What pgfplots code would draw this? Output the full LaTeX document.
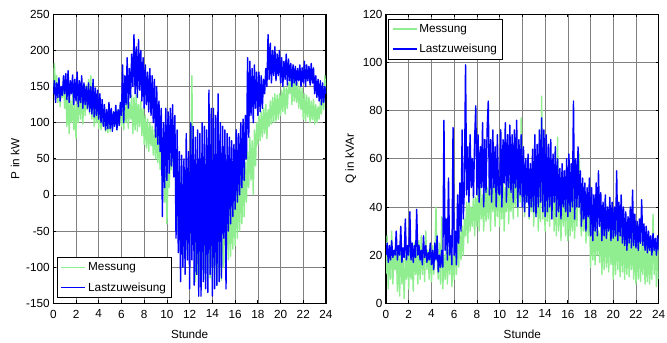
\documentclass[border=0pt]{standalone}
\usepackage{fontspec}
\setmainfont{Liberation Sans}
\usepackage{pgfplots}
\usepackage{pgfplotstable}
\pgfplotsset{compat=1.18}
\definecolor{mgreen}{RGB}{144,238,144}
\definecolor{mblue}{RGB}{0,0,255}
\newcommand{\fs}{\fontsize{11.8}{13}\selectfont}

\pgfplotstableread{
t pm pl qm ql
0.0 150 140 12 20
0.1 182 158 28 25
0.2 140 128 6 17
0.3 165 155 22 24
0.4 128 135 10 18
0.5 158 162 30 26
0.6 122 130 8 19
0.7 150 150 20 22
0.8 135 138 14 20
0.9 160 165 25 30
1.0 120 140 5 18
1.1 150 168 22 24
1.2 95 132 3 20
1.3 138 172 25 32
1.4 85 128 8 17
1.5 130 158 18 23
1.6 100 140 2 19
1.7 140 166 20 35
1.8 90 125 10 18
1.9 125 160 24 24
2.0 78 130 6 20
2.1 135 170 24 38
2.2 100 122 10 18
2.3 150 158 20 25
2.4 105 128 5 17
2.5 140 165 25 24
2.6 98 120 12 19
2.7 145 155 22 39
2.8 110 125 8 20
2.9 152 150 26 24
3.0 118 120 10 18
3.1 160 155 28 22
3.2 112 115 12 16
3.3 165 150 24 28
3.4 105 112 9 19
3.5 140 160 30 24
3.6 95 108 14 17
3.7 130 148 22 21
3.8 100 110 10 18
3.9 125 145 25 25
4.0 92 105 9 16
4.1 128 140 24 22
4.2 90 100 12 14
4.3 120 132 20 25
4.4 95 95 40 18
4.5 112 125 18 28
4.6 88 90 10 13
4.7 105 118 25 20
4.8 86 92 8 15
4.9 110 128 36 22
5.0 88 92 6 15
5.1 102 120 20 76
5.2 92 88 10 22
5.3 115 115 24 35
5.4 95 95 8 18
5.5 120 124 22 52
5.6 90 90 12 20
5.7 118 118 25 28
5.8 100 96 7 16
5.9 125 128 20 73
6.0 95 110 10 20
6.1 130 180 25 30
6.2 90 100 12 16
6.3 125 165 28 45
6.4 100 125 15 25
6.5 135 190 30 50
6.6 92 120 18 30
6.7 128 175 32 72
6.8 105 135 20 35
6.9 138 195 35 48
7.0 85 150 28 99
7.1 135 222 42 45
7.2 90 140 25 65
7.3 140 205 45 42
7.4 88 135 30 70
7.5 125 215 40 48
7.6 95 145 32 60
7.7 130 200 46 44
7.8 82 130 28 68
7.9 120 190 44 82
8.0 70 120 32 45
8.1 110 180 48 70
8.2 65 125 30 42
8.3 105 170 50 65
8.4 60 115 35 48
8.5 100 175 45 75
8.6 68 110 30 40
8.7 95 165 52 68
8.8 55 100 34 46
8.9 90 160 48 72
9.0 50 80 35 84
9.1 90 150 55 45
9.2 45 70 30 68
9.3 80 130 50 42
9.4 35 60 38 72
9.5 70 120 52 48
9.6 20 -30 32 65
9.7 55 100 55 40
9.8 -10 10 36 70
9.9 35 120 50 46
10.0 -40 20 32 45
10.1 30 115 50 72
10.2 10 30 35 40
10.3 55 120 55 68
10.4 35 40 30 50
10.5 70 125 48 75
10.6 40 25 38 42
10.7 60 110 56 70
10.8 -20 -60 33 48
10.9 45 90 52 74
11.0 -50 -80 38 46
11.1 40 60 55 70
11.2 -80 -120 35 42
11.3 25 55 58 72
11.4 -90 -100 40 48
11.5 20 50 60 76
11.6 -70 -110 36 40
11.7 30 85 57 68
11.8 -85 -90 42 45
11.9 15 60 77 70
12.0 -80 -130 40 40
12.1 50 100 55 65
12.2 165 -90 36 38
12.3 -60 95 52 60
12.4 40 -125 42 42
12.5 -120 80 58 62
12.6 25 -110 35 36
12.7 -110 90 50 58
12.8 30 -140 38 40
12.9 -100 85 55 64
13.0 -125 -140 32 38
13.1 35 100 52 70
13.2 -110 -120 36 36
13.3 40 95 55 66
13.4 -120 -130 30 40
13.5 20 90 50 72
13.6 -100 -135 34 42
13.7 30 145 86 77
13.8 -115 -110 35 38
13.9 38 120 52 72
14.0 -120 -140 30 36
14.1 20 120 52 70
14.2 -110 -130 34 38
14.3 25 110 55 66
14.4 -125 -125 32 40
14.5 15 140 48 68
14.6 -100 -120 36 35
14.7 22 100 54 62
14.8 -118 -115 30 42
14.9 10 95 50 65
15.0 -100 -60 28 36
15.1 10 90 69 60
15.2 -95 -130 30 38
15.3 5 85 52 56
15.4 -90 -50 26 35
15.5 0 80 55 58
15.6 -85 -40 32 40
15.7 -5 75 50 55
15.8 -75 -30 28 38
15.9 8 70 54 60
16.0 -70 -20 26 36
16.1 30 90 48 62
16.2 -60 -10 28 38
16.3 25 85 45 58
16.4 -50 0 30 40
16.5 35 100 50 84
16.6 -40 10 27 35
16.7 40 105 46 60
16.8 -30 20 32 40
16.9 45 110 48 65
17.0 -10 50 62 40
17.1 60 190 35 55
17.2 10 80 28 32
17.3 80 185 48 52
17.4 20 110 30 35
17.5 75 175 45 50
17.6 0 100 25 30
17.7 90 180 46 48
17.8 40 120 28 36
17.9 100 170 44 52
18.0 70 110 15 28
18.1 110 170 35 48
18.2 75 115 18 26
18.3 115 165 32 45
18.4 80 120 16 30
18.5 120 160 34 50
18.6 85 140 20 28
18.7 125 175 30 55
18.8 78 150 17 32
18.9 118 222 33 46
19.0 95 160 12 26
19.1 130 210 32 42
19.2 98 155 14 28
19.3 135 200 35 45
19.4 100 165 15 27
19.5 140 205 30 40
19.6 102 158 13 30
19.7 138 195 34 44
19.8 105 165 16 26
19.9 140 200 32 42
20.0 110 155 10 27
20.1 145 190 32 40
20.2 115 150 12 28
20.3 150 185 35 55
20.4 112 160 14 26
20.5 148 195 30 42
20.6 120 152 11 28
20.7 155 188 33 45
20.8 140 158 13 25
20.9 165 182 30 40
21.0 125 150 10 24
21.1 160 180 28 38
21.2 130 155 12 22
21.3 158 178 30 36
21.4 128 152 11 25
21.5 155 175 26 40
21.6 120 158 14 23
21.7 150 180 29 47
21.8 118 150 10 24
21.9 148 176 27 37
22.0 105 155 8 23
22.1 140 185 26 34
22.2 102 150 10 22
22.3 138 180 28 35
22.4 108 158 9 25
22.5 135 178 25 43
22.6 100 152 12 24
22.7 130 182 27 33
22.8 104 155 8 22
22.9 132 176 24 32
23.0 98 140 9 21
23.1 125 165 25 30
23.2 100 135 8 22
23.3 122 160 22 28
23.4 105 130 10 20
23.5 130 158 37 29
23.6 112 125 12 22
23.7 150 155 26 27
23.8 118 128 7 20
23.9 165 150 27 28
24.0 140 140 10 22
}\data

\pgfplotsset{
  legend image code/.code={\draw[#1] (0bp,0bp) -- (24bp,0bp);},
  mstyle/.style={
    scale only axis,
    width=272.7bp, height=289bp,
    xmin=0, xmax=24, xtick={0,2,...,24},
    grid=major,
    grid style={black!50, line width=0.6bp},
    axis line style={black, line width=1.1bp},
    tick align=inside,
    major tick length=3bp,
    tick style={black, line width=0.7bp},
    tick label style={font=\fs},
    xticklabel style={yshift=-3bp},
    label style={font=\fs},
    xlabel style={yshift=-5bp},
    /pgf/number format/assume math mode=true,
    xlabel={Stunde},
    legend cell align=left,
    legend style={font=\fs, text=black, draw=black, line width=0.8bp, fill=white,
      inner xsep=3bp, inner ysep=3bp, row sep=6.5bp,
      nodes={inner sep=2bp}},
  },
  gline/.style={color=mgreen, line width=1.4bp, line join=round},
  bline/.style={color=mblue, line width=1.4bp, line join=round},
}

\begin{document}
\begin{tikzpicture}
\path[use as bounding box] (-53.3bp,-39.7bp) rectangle (613.7bp,303.3bp);
\begin{scope}
\begin{axis}[mstyle, at={(332.7bp,0bp)},
  ymin=0, ymax=120, ytick={0,20,...,120},
  ylabel={Q in kVAr},
  legend style={at={(0.009,0.985)}, anchor=north west},
]
\addplot[gline] table[x=t, y=qm]{\data};
\addlegendentry{Messung}
\addplot[bline] table[x=t, y=ql]{\data};
\addlegendentry{Lastzuweisung}
\end{axis}
\end{scope}
\begin{scope}
\begin{axis}[mstyle,
  ymin=-150, ymax=250, ytick={-150,-100,...,250},
  ylabel={P in kW},
  legend style={at={(0.015,0.018)}, anchor=south west},
]
\addplot[gline] table[x=t, y=pm]{\data};
\addlegendentry{Messung}
\addplot[bline] table[x=t, y=pl]{\data};
\addlegendentry{Lastzuweisung}
\end{axis}
\end{scope}
\end{tikzpicture}
\end{document}
